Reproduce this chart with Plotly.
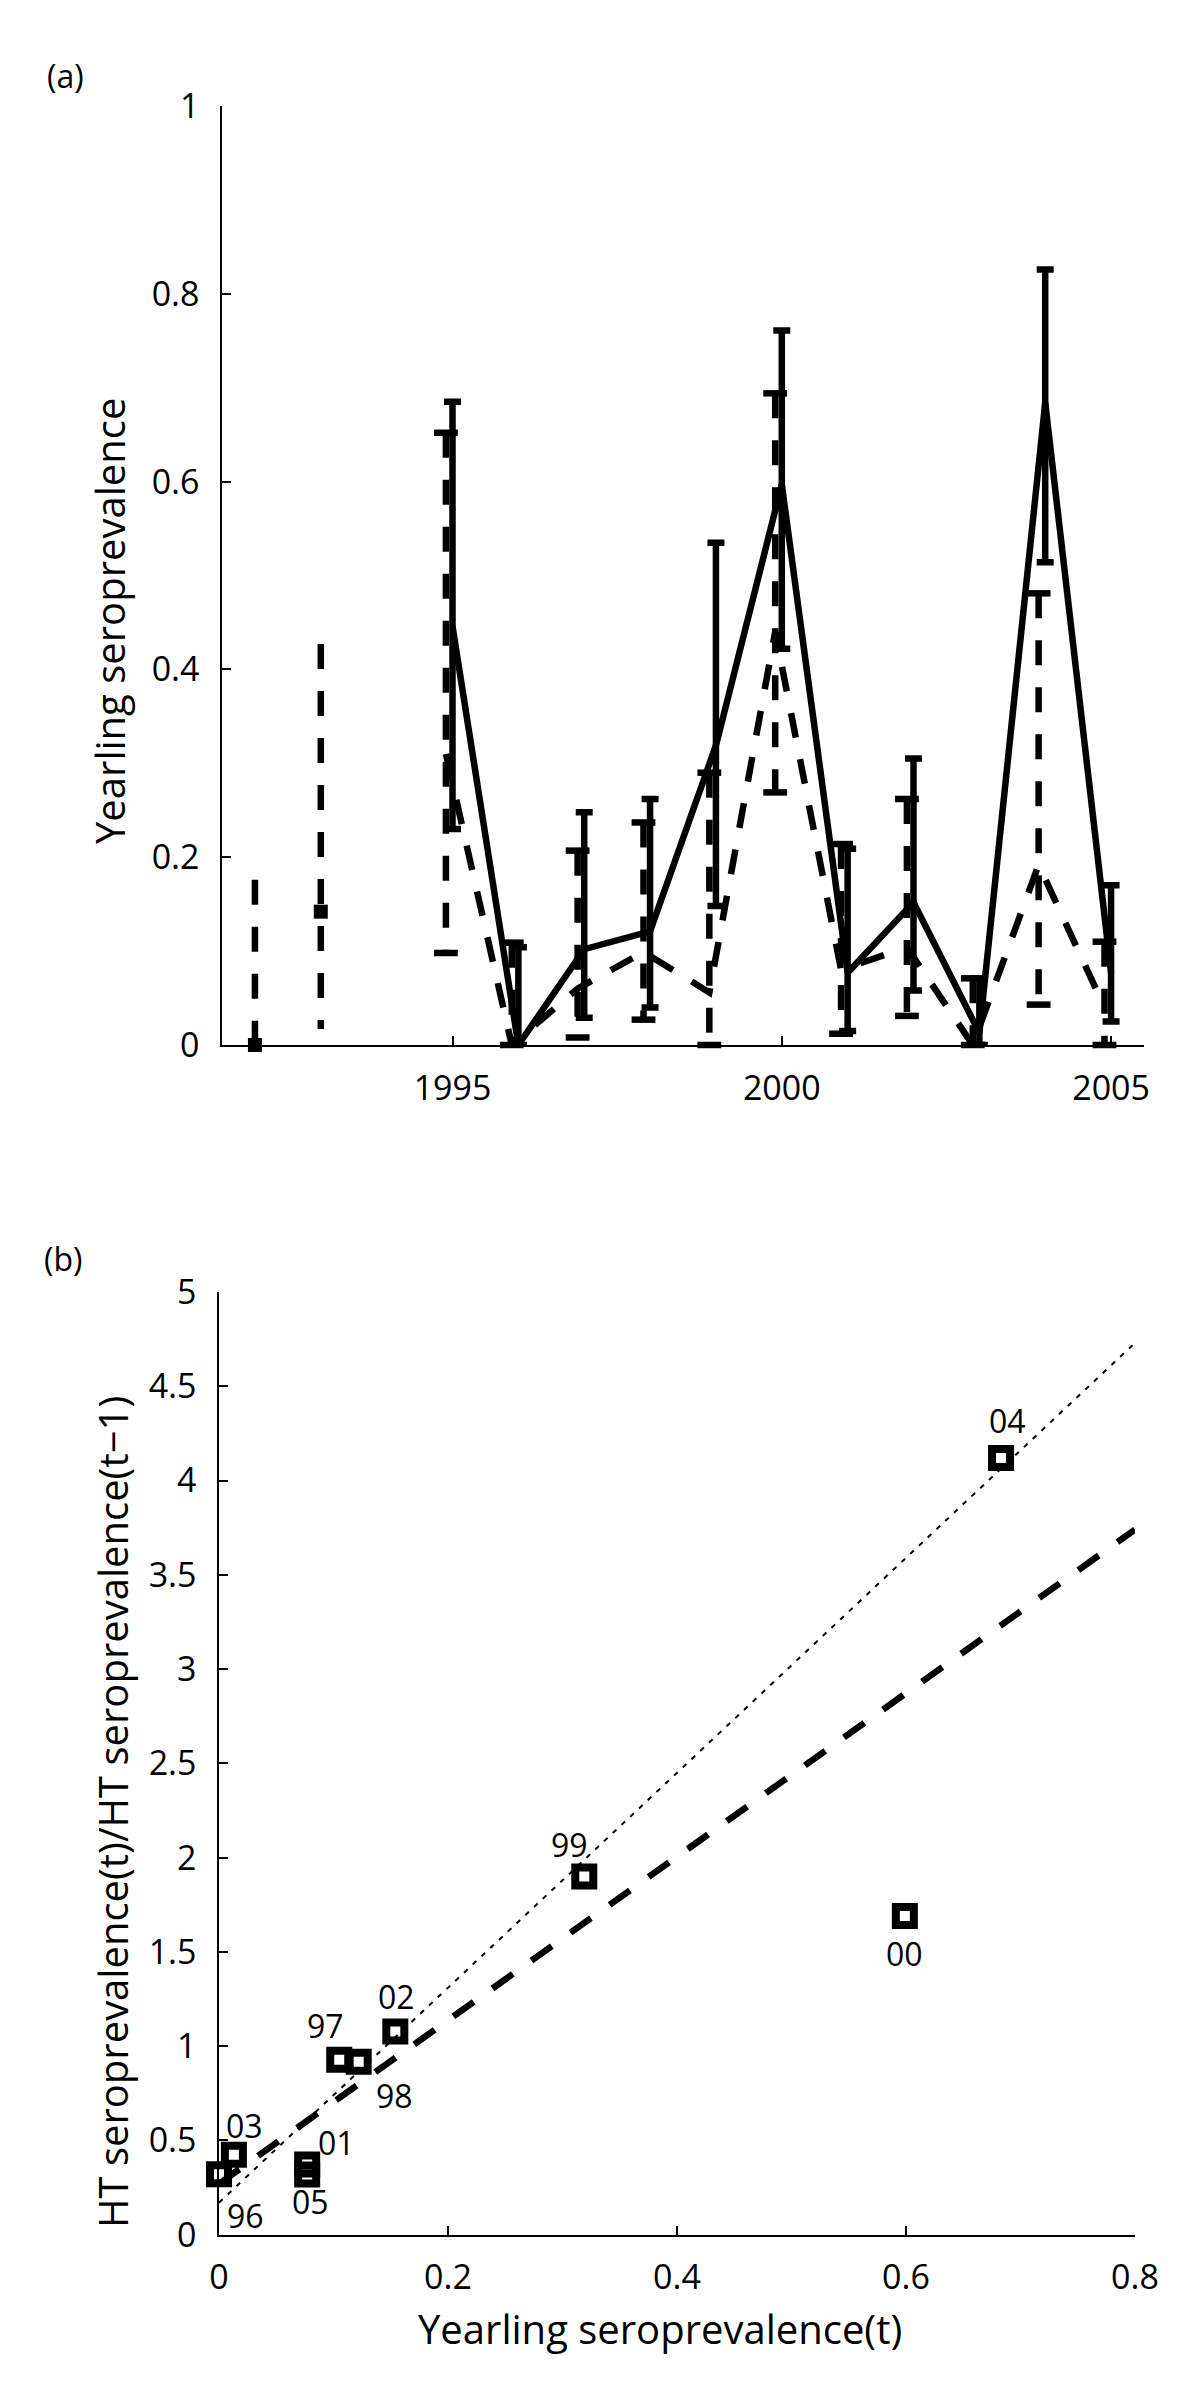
import plotly.graph_objects as go

# ---------------- data: panel (a) ----------------
solid_years = [1995, 1996, 1997, 1998, 1999, 2000, 2001, 2002, 2003, 2004, 2005]
solid_y  = [0.446, 0.000, 0.102, 0.121, 0.319, 0.597, 0.077, 0.152, 0.013, 0.684, 0.077]
solid_lo = [0.230, 0.000, 0.029, 0.040, 0.148, 0.422, 0.015, 0.058, 0.000, 0.514, 0.025]
solid_hi = [0.685, 0.104, 0.248, 0.262, 0.535, 0.761, 0.209, 0.305, 0.071, 0.826, 0.170]

dashed_x  = [1992.0, 1993.0, 1994.9, 1995.9, 1996.9, 1997.9, 1998.9, 1999.9, 2000.9, 2001.9, 2002.9, 2003.9, 2004.9]
dashed_y  = [0.000, 0.142, 0.310, 0.000, 0.060, 0.099, 0.056, 0.440, 0.080, 0.104, 0.000, 0.192, 0.040]
dashed_lo = [0.000, 0.017, 0.098, 0.000, 0.008, 0.027, 0.000, 0.269, 0.012, 0.031, 0.000, 0.043, 0.000]
dashed_hi = [0.176, 0.427, 0.652, 0.109, 0.207, 0.237, 0.290, 0.694, 0.214, 0.262, 0.071, 0.481, 0.110]
dashed_segment = [0, 1, 2, 2, 2, 2, 2, 2, 2, 2, 2, 2, 2]

a_xticks = [1995, 2000, 2005]
a_yticks = [0, 0.2, 0.4, 0.6, 0.8, 1]
a_yticktext = ["0", "0.2", "0.4", "0.6", "0.8", "1"]

# ---------------- data: panel (b) ----------------
b_labels = ["96", "97", "98", "99", "00", "01", "02", "03", "04", "05"]
b_x = [0.000, 0.105, 0.122, 0.319, 0.599, 0.077, 0.154, 0.013, 0.683, 0.077]
b_y = [0.320, 0.928, 0.917, 1.900, 1.690, 0.372, 1.078, 0.424, 4.120, 0.319]

fit_x = [0.0, 0.8]
dashed_fit_y = [0.27, 3.74]
dotted_fit_y = [0.17, 4.73]

b_xticks = [0, 0.2, 0.4, 0.6, 0.8]
b_xticktext = ["0", "0.2", "0.4", "0.6", "0.8"]
b_yticks = [0, 0.5, 1, 1.5, 2, 2.5, 3, 3.5, 4, 4.5, 5]
b_yticktext = ["0", "0.5", "1", "1.5", "2", "2.5", "3", "3.5", "4", "4.5", "5"]

# ---------------- styling / layout (pixels) ----------------
W, H = 1200, 2383
FONT = "Open Sans"
A_X = (214, 1136); A_Y = (98, 1037)
B_X = (211, 1127); B_Y = (1284, 2226.7)
# label offsets (px) for the year labels in panel (b): (dx, dy), dy downward
label_offsets = {"96": (26, 41), "97": (-14, -34), "98": (36, 34), "99": (-15, -32),
                 "00": (0, 37), "01": (29, -22), "02": (1, -35), "03": (11, -29),
                 "04": (6, -37), "05": (3, 27)}

def fx(p):
    return p / W

def fy(p):
    return 1 - p / H

DASH = "25px,22px"
LW = 6.5

fig = go.Figure()

# solid series with error bars
fig.add_trace(go.Scatter(
    x=solid_years, y=solid_y, mode="lines",
    line=dict(color="black", width=LW),
    error_y=dict(type="data", symmetric=False,
                 array=[h - v for h, v in zip(solid_hi, solid_y)],
                 arrayminus=[v - l for v, l in zip(solid_y, solid_lo)],
                 color="black", thickness=LW, width=8.5),
    xaxis="x", yaxis="y", cliponaxis=False, showlegend=False))

# dashed series line (broken between segments)
lx, ly = [], []
prev = None
for x, y, s in zip(dashed_x, dashed_y, dashed_segment):
    if prev is not None and s != prev:
        lx.append(None); ly.append(None)
    lx.append(x); ly.append(y)
    prev = s
fig.add_trace(go.Scatter(x=lx, y=ly, mode="lines",
                         line=dict(color="black", width=LW, dash=DASH),
                         xaxis="x", yaxis="y", cliponaxis=False, showlegend=False))

# dashed error bars
ex, ey = [], []
for x, lo, hi in zip(dashed_x, dashed_lo, dashed_hi):
    ex += [x, x, None]; ey += [hi, lo, None]
fig.add_trace(go.Scatter(x=ex, y=ey, mode="lines",
                         line=dict(color="black", width=LW, dash=DASH),
                         xaxis="x", yaxis="y", cliponaxis=False, showlegend=False))

isolated = [dashed_segment.count(s) == 1 for s in dashed_segment]
cap_x, cap_y = [], []
for x, lo, hi, iso in zip(dashed_x, dashed_lo, dashed_hi, isolated):
    if not iso:
        cap_x += [x, x]; cap_y += [lo, hi]
fig.add_trace(go.Scatter(x=cap_x, y=cap_y, mode="markers",
                         marker=dict(symbol="line-ew", size=17, color="black",
                                     line=dict(color="black", width=LW)),
                         xaxis="x", yaxis="y", cliponaxis=False, showlegend=False))

# isolated dashed points (no neighbours in the same segment)
iso_x = [x for x, iso in zip(dashed_x, isolated) if iso]
iso_y = [y for y, iso in zip(dashed_y, isolated) if iso]
fig.add_trace(go.Scatter(x=iso_x, y=iso_y, mode="markers",
                         marker=dict(symbol="square", size=14, color="black"),
                         xaxis="x", yaxis="y", cliponaxis=False, showlegend=False))

# panel (b) fit lines
fig.add_trace(go.Scatter(x=fit_x, y=dotted_fit_y, mode="lines",
                         line=dict(color="black", width=2, dash="5px,7px"),
                         xaxis="x2", yaxis="y2", showlegend=False))
fig.add_trace(go.Scatter(x=fit_x, y=dashed_fit_y, mode="lines",
                         line=dict(color="black", width=LW, dash="25px,23px"),
                         xaxis="x2", yaxis="y2", showlegend=False))
# squares
fig.add_trace(go.Scatter(x=b_x, y=b_y, mode="markers",
                         marker=dict(symbol="square-open", size=18, color="black",
                                     line=dict(color="black", width=8)),
                         xaxis="x2", yaxis="y2", cliponaxis=False, showlegend=False))

annotations = []
for lab, x, y in zip(b_labels, b_x, b_y):
    dx, dy = label_offsets[lab]
    annotations.append(dict(x=x, y=y, xref="x2", yref="y2", text=lab, showarrow=False,
                            xanchor="center", yanchor="middle", xshift=dx, yshift=-dy,
                            font=dict(family=FONT, size=32, color="black")))

def ann(text, px, py, size, angle=0):
    return dict(x=fx(px), y=fy(py), xref="paper", yref="paper", text=text,
                showarrow=False, xanchor="center", yanchor="middle", textangle=angle,
                font=dict(family=FONT, size=size, color="black"))

annotations += [
    ann("(a)", 57, 67, 32),
    ann("(b)", 55, 1250, 32),
    ann("Yearling seroprevalence", 101, 613, 40, -90),
    ann("HT seroprevalence(t)/HT seroprevalence(t\u22121)", 104, 1804, 40, -90),
    ann("Yearling seroprevalence(t)", 652, 2320, 40),
]

axis_common = dict(showline=True, linecolor="black", linewidth=1.5, ticks="inside",
                   ticklen=9, tickwidth=1.5, tickcolor="black", showgrid=False,
                   zeroline=False, automargin=False,
                   tickfont=dict(family=FONT, size=34, color="black"))

fig.update_layout(
    width=W, height=H,
    margin=dict(l=0, r=0, t=0, b=0),
    paper_bgcolor="white", plot_bgcolor="white",
    font=dict(family=FONT, color="black"),
    showlegend=False,
    xaxis=dict(domain=[fx(A_X[0]), fx(A_X[1])], range=[1991.5, 2005.5],
               tickvals=a_xticks, ticktext=[str(t) for t in a_xticks],
               anchor="y", ticklabelstandoff=12, **axis_common),
    yaxis=dict(domain=[fy(A_Y[1]), fy(A_Y[0])], range=[0, 1],
               tickvals=a_yticks, ticktext=a_yticktext,
               anchor="x", ticklabelstandoff=14, **axis_common),
    xaxis2=dict(domain=[fx(B_X[0]), fx(B_X[1])], range=[0, 0.8],
                tickvals=b_xticks, ticktext=b_xticktext,
                anchor="y2", ticklabelstandoff=12, **axis_common),
    yaxis2=dict(domain=[fy(B_Y[1]), fy(B_Y[0])], range=[0, 5],
                tickvals=b_yticks, ticktext=b_yticktext,
                anchor="x2", ticklabelstandoff=14, **axis_common),
    annotations=annotations,
)

fig.write_html("out.html")
